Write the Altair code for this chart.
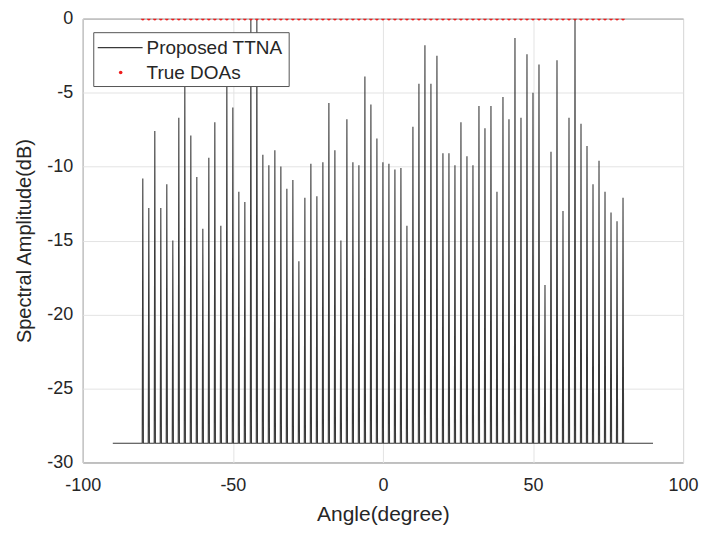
import altair as alt
import pandas as pd

# ---- data ----
peak_angles = list(range(-80, 81, 2))
peak_values = [
    -10.8, -12.8, -7.6, -12.8, -11.2, -15.0, -6.7, -3.8, -7.9, -10.7,   # -80 .. -62
    -14.2, -9.4, -7.0, -14.0, -3.2, -6.0, -11.7, -12.4, 0.0, 0.0,       # -60 .. -42
    -9.2, -9.9, -8.9, -10.0, -11.5, -10.9, -16.4, -12.1, -9.8, -12.0,   # -40 .. -22
    -9.7, -5.7, -8.9, -15.0, -6.8, -9.7, -9.9, -3.9, -5.8, -8.1,        # -20 .. -2
    -9.7, -9.8, -10.2, -10.1, -14.0, -7.3, -4.4, -1.8, -4.4, -2.5,      # 0 .. 18
    -9.1, -9.1, -9.9, -7.0, -9.3, -9.9, -5.9, -7.4, -5.9, -11.7,        # 20 .. 38
    -5.3, -6.8, -1.3, -6.7, -2.4, -5.0, -3.1, -18.0, -9.0, -2.8,        # 40 .. 58
    -13.0, -6.7, 0.0, -7.1, -8.6, -11.2, -9.6, -11.7, -13.1, -13.7,     # 60 .. 78
    -12.1,                                                              # 80
]
floor_level = -28.7
scan_range = [-90, 90]
true_doas = list(range(-80, 81, 2))

x_ticks = [-100, -50, 0, 50, 100]
y_ticks = [-30, -25, -20, -15, -10, -5, 0]

# ---- build spectrum polyline (narrow spikes on the floor) ----
hw = 0.2
xs, ys = [scan_range[0]], [floor_level]
for a, v in zip(peak_angles, peak_values):
    xs += [a - hw, a, a + hw]
    ys += [floor_level, v, floor_level]
xs.append(scan_range[1])
ys.append(floor_level)
spec = pd.DataFrame({"angle": xs, "amp": ys, "i": range(len(xs))})
doa = pd.DataFrame({"angle": true_doas, "amp": [0.0] * len(true_doas)})

FONT = "Liberation Sans"
TXT = "#262626"
LINE = "#3a3a3a"
RED = "#ee1c1c"

xscale = alt.Scale(domain=[-100, 100], nice=False, zero=False)
yscale = alt.Scale(domain=[-30, 0], nice=False, zero=False)

xaxis = alt.Axis(values=x_ticks, title="Angle(degree)", grid=True, ticks=False,
                 domain=False, labelPadding=14, titlePadding=9, labelFlush=False,
                 titleFontSize=21, labelExpr="'' + datum.value")
yaxis = alt.Axis(values=y_ticks, title="Spectral Amplitude(dB)", grid=True, ticks=False,
                 domain=False, labelPadding=10, titlePadding=12, labelFlush=False,
                 titleFontSize=20, labelExpr="'' + datum.value")

line = alt.Chart(spec).mark_line(color=LINE, strokeWidth=1.1, clip=True).encode(
    x=alt.X("angle:Q", scale=xscale, axis=xaxis),
    y=alt.Y("amp:Q", scale=yscale, axis=yaxis),
    order="i:Q",
)

pts = alt.Chart(doa).mark_circle(color=RED, size=13, opacity=1, clip=True).encode(
    x=alt.X("angle:Q", scale=xscale),
    y=alt.Y("amp:Q", scale=yscale),
)

# ---- legend box (drawn manually, MATLAB style) ----
lg_box = alt.Chart().mark_rect(fill="white", stroke="#555555", strokeWidth=1).encode(
    x=alt.value(11), x2=alt.value(207), y=alt.value(14), y2=alt.value(68))
lg_line = alt.Chart().mark_rule(color=LINE, strokeWidth=1.1).encode(
    x=alt.value(15), x2=alt.value(60), y=alt.value(29))
lg_dot = alt.Chart().mark_circle(color=RED, size=13, opacity=1).encode(
    x=alt.value(38), y=alt.value(54))
lg_t1 = alt.Chart().mark_text(text="Proposed TTNA", align="left", baseline="middle",
                              font=FONT, fontSize=19, color=TXT).encode(
    x=alt.value(64), y=alt.value(29))
lg_t2 = alt.Chart().mark_text(text="True DOAs", align="left", baseline="middle",
                              font=FONT, fontSize=19, color=TXT).encode(
    x=alt.value(64), y=alt.value(54))

chart = alt.layer(line, pts, lg_box, lg_line, lg_dot, lg_t1, lg_t2).properties(
    width=602, height=445,
    autosize=alt.AutoSizeParams(type="none"),
    padding={"left": 75, "top": 10, "right": 16, "bottom": 62},
).configure_view(
    stroke="#3a3a3a", strokeWidth=1
).configure_axis(
    labelFont=FONT, labelFontSize=18, labelColor=TXT,
    titleFont=FONT, titleFontWeight="normal", titleColor=TXT,
    gridColor="#e3e3e3", gridWidth=1,
)

chart.save("out.html", embed_options={"renderer": "svg", "actions": False})
